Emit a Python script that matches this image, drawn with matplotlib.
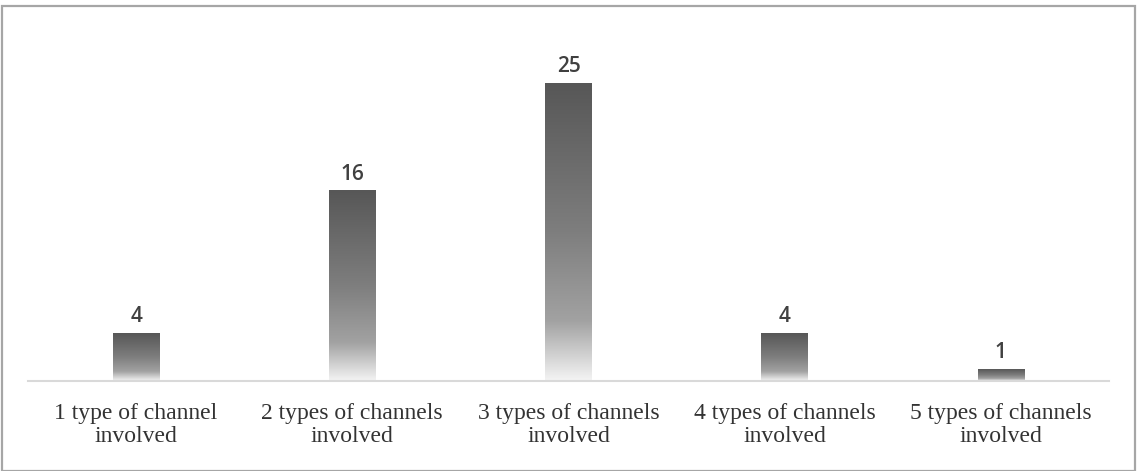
import numpy as np
import matplotlib.pyplot as plt
from matplotlib.colors import LinearSegmentedColormap
from matplotlib.patches import Rectangle

categories = ["1 type of channel\ninvolved", "2 types of channels\ninvolved",
              "3 types of channels\ninvolved", "4 types of channels\ninvolved",
              "5 types of channels\ninvolved"]
counts = [4, 16, 25, 4, 1]

W, H = 1140, 471
fig = plt.figure(figsize=(W / 100, H / 100), dpi=100)
ax = fig.add_axes([28 / W, 1 - 381 / H, (1109 - 28) / W, (381 - 30) / H])

# vertical grey gradient, dark at the top, fading to white at the base
cmap = LinearSegmentedColormap.from_list(
    "fade", [(0.0, "#575757"), (0.5, "#7e7e7e"), (0.8, "#a2a2a2"), (1.0, "#f4f4f4")])
grad = np.linspace(0, 1, 256).reshape(-1, 1)

bar_w = 0.215
x = np.arange(len(counts))
for xi, v in zip(x, counts):
    ax.imshow(grad, cmap=cmap, aspect="auto", interpolation="bicubic",
              extent=(xi - bar_w / 2, xi + bar_w / 2, 0, v), origin="upper", zorder=2)
    ax.annotate(str(v), (xi, v), xytext=(0, 8), textcoords="offset points",
                ha="center", va="baseline", fontsize=15, family="Open Sans",
                fontweight="semibold", color="#404040")

ax.set_xlim(-0.5, len(counts) - 0.5)
ax.set_ylim(0, 29.5)
ax.set_xticks(x)
ax.set_xticklabels(categories, family="Liberation Serif", fontsize=17,
                   color="#333333", linespacing=1.14)
ax.tick_params(axis="x", length=0, pad=16)
ax.set_yticks([])
for s in ["top", "left", "right"]:
    ax.spines[s].set_visible(False)
ax.spines["bottom"].set_color("#d9d9d9")
ax.spines["bottom"].set_linewidth(1.5)

# outer frame around the chart
fig.patches.append(Rectangle((2 / W, 0), (1135 - 2) / W, 1 - 6 / H,
                             transform=fig.transFigure, fill=False,
                             edgecolor="#a6a6a6", linewidth=1.6))

fig.savefig("out.png", dpi=100)
